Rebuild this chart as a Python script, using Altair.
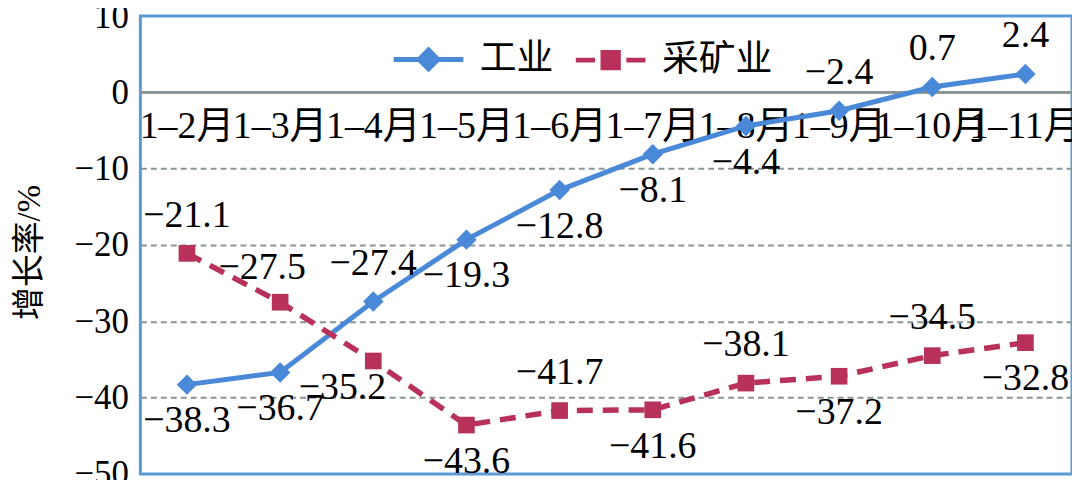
import altair as alt
import pandas as pd

CATEGORIES = ["1–2月", "1–3月", "1–4月", "1–5月", "1–6月", "1–7月",
              "1–8月", "1–9月", "1–10月", "1–11月"]
INDUSTRY = [-38.3, -36.7, -27.4, -19.3, -12.8, -8.1, -4.4, -2.4, 0.7, 2.4]
MINING = [-21.1, -27.5, -35.2, -43.6, -41.7, -41.6, -38.1, -37.2, -34.5, -32.8]
SERIES = ["工业", "采矿业"]
Y_TICKS = [10, 0, -10, -20, -30, -40, -50]

# label placement (style, not data)
IND_LABEL_POS = ["below", "below", "above", "below", "below", "below",
                 "below", "above", "above", "above"]
MIN_LABEL_POS = ["above", "above-left", "below-left", "below", "above", "below",
                 "above", "below", "above", "below"]

BLUE = "#4a88d8"
RED = "#b7315a"
GRID = "#8a9696"
BORDER = "#5b9bd5"
FONT = "Liberation Serif, Noto Sans CJK SC"

rows = []
for c, v, p in zip(CATEGORIES, INDUSTRY, IND_LABEL_POS):
    rows.append({"category": c, "value": v, "series": SERIES[0], "pos": p})
for c, v, p in zip(CATEGORIES, MINING, MIN_LABEL_POS):
    rows.append({"category": c, "value": v, "series": SERIES[1], "pos": p})
df = pd.DataFrame(rows)
cats = pd.DataFrame({"category": CATEGORIES})

xenc = alt.X("category:N", scale=alt.Scale(domain=CATEGORIES, type="point", padding=0.5), axis=None)
yscale = alt.Scale(domain=[-50, 10], nice=False, zero=False)
yenc = alt.Y(
    "value:Q",
    scale=yscale,
    axis=alt.Axis(
        values=Y_TICKS, title="增长率/%", grid=True, gridDash=[6, 4], gridWidth=2,
        gridColor=alt.condition("datum.value == 10 || datum.value == -50 || datum.value == 0",
                                alt.value("transparent"), alt.value(GRID)),
        domain=False, ticks=False, labelFontSize=35, labelFont=FONT, labelColor="black",
        labelPadding=12, titleFont=FONT, titleFontSize=33, titleFontWeight="normal",
        titleColor="black", titleX=-111, titleY=237, titleBaseline="middle",
    ),
)

base = alt.Chart(df)
ind = base.transform_filter(alt.datum.series == SERIES[0])
mine = base.transform_filter(alt.datum.series == SERIES[1])

zero_rule = alt.Chart(cats).mark_rule(color=GRID, strokeWidth=2).encode(y=alt.datum(0, scale=yscale))

line_ind = ind.mark_line(strokeWidth=5, color=BLUE).encode(x=xenc, y=yenc)
line_min = mine.mark_line(strokeWidth=5.5, color=RED, strokeDash=[16, 10]).encode(x=xenc, y="value:Q")

pts_ind = ind.mark_point(filled=True, opacity=1, shape="diamond", size=420, color=BLUE).encode(x=xenc, y="value:Q")
pts_min = mine.mark_point(filled=True, opacity=1, shape="square", size=280, color=RED).encode(x=xenc, y="value:Q")

LEG_PATHS = [
    "M-1,0H1M0,-0.27L0.27,0L0,0.27L-0.27,0Z",
    "M-1,0H-0.45M0.45,0H1M-0.22,-0.22H0.22V0.22H-0.22Z",
]
legend_props = dict(
    orient="none", legendX=252, legendY=6, direction="horizontal", title=None,
    labelFont=FONT, labelFontSize=37, labelColor="black", symbolSize=4900,
    symbolStrokeWidth=5, symbolOpacity=1, labelOffset=14, columnPadding=12,
)
legend_layer = base.mark_point(size=4900, strokeWidth=5, opacity=0).encode(
    x=xenc, y="value:Q",
    fill=alt.Fill("series:N", scale=alt.Scale(domain=SERIES, range=[BLUE, RED]), legend=alt.Legend(**legend_props)),
    stroke=alt.Stroke("series:N", scale=alt.Scale(domain=SERIES, range=[BLUE, RED]), legend=alt.Legend(**legend_props)),
    shape=alt.Shape("series:N", scale=alt.Scale(domain=SERIES, range=LEG_PATHS), legend=alt.Legend(**legend_props)),
)

label_offsets = {"above": (0, -38), "below": (0, 37), "below-left": (-31, 27), "above-left": (-18, -34)}
label_layers = []
for pos, (dx, dy) in label_offsets.items():
    label_layers.append(
        base.transform_filter(alt.datum.pos == pos).mark_text(
            font=FONT, fontSize=38, color="black", dx=dx, dy=dy, baseline="middle"
        ).encode(x=xenc, y="value:Q", text=alt.Text("value:Q", format=".1f"))
    )

x_labels = alt.Chart(cats).mark_text(
    font=FONT, fontSize=38, color="black", dy=35, baseline="middle"
).encode(x=xenc, y=alt.datum(0, scale=yscale), text="category:N")

chart = alt.layer(zero_rule, x_labels, line_ind, line_min, pts_ind, pts_min, legend_layer, *label_layers).properties(
    width=936, height=460,
    autosize=alt.AutoSizeParams(type="none"),
    padding={"left": 133, "top": 7, "right": 0, "bottom": 5},
    background="white",
).configure_view(stroke=BORDER, strokeWidth=3)

chart.save("out.html", embed_options={"renderer": "svg", "actions": False})
